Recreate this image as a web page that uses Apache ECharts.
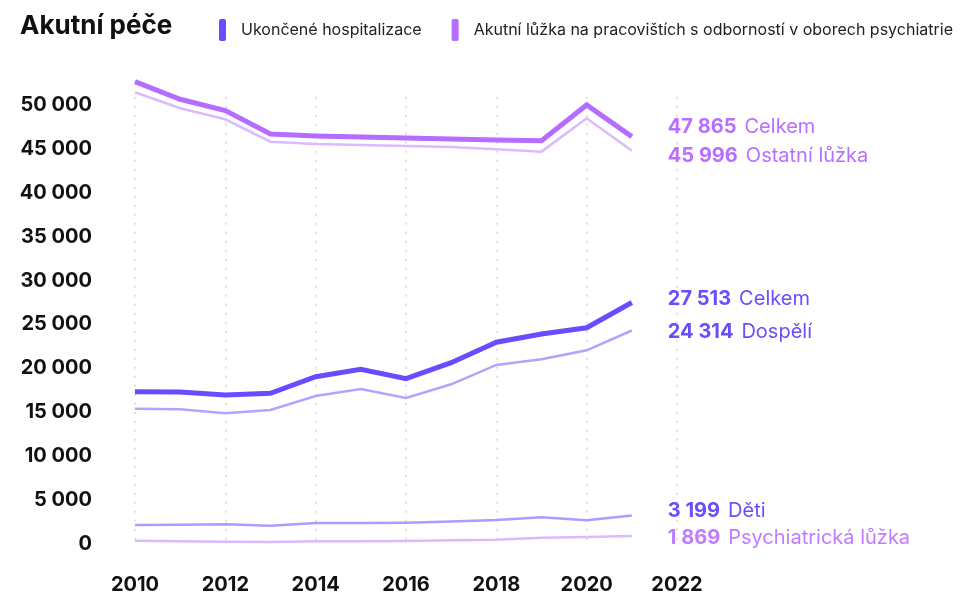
<!DOCTYPE html>
<html>
<head>
<meta charset="utf-8">
<script src="https://cdn.jsdelivr.net/npm/echarts@6/dist/echarts.min.js"></script>
<style>
html,body{margin:0;padding:0;background:#fff;}
#chart{width:968px;height:598px;}
</style>
</head>
<body>
<div id="chart"></div>
<script>
var years = [2010, 2011, 2012, 2013, 2014, 2015, 2016, 2017, 2018, 2019, 2020, 2021];
var hospTotal = [17330, 17290, 16950, 17150, 19040, 19890, 18810, 20640, 22970, 23920, 24630, 27513];
var hospAdult = [15390, 15320, 14860, 15240, 16840, 17640, 16610, 18170, 20380, 21030, 22050, 24314];
var hospChild = [2110, 2150, 2190, 2030, 2340, 2350, 2370, 2500, 2680, 2990, 2650, 3199];
var bedsTotal = [52720, 50710, 49410, 46750, 46520, 46400, 46290, 46180, 46060, 45980, 50060, 46440];
var bedsOther = [51510, 49680, 48420, 45870, 45610, 45490, 45380, 45260, 45000, 44730, 48540, 44840];
var bedsPsych = [320, 260, 205, 170, 250, 270, 285, 360, 430, 660, 740, 860];

var endValues = ['47 865', '45 996', '27 513', '24 314', '3 199', '1 869'];
var endNames = ['Celkem', 'Ostatní lůžka', 'Celkem', 'Dospělí', 'Děti', 'Psychiatrická lůžka'];
var legendNames = ['Ukončené hospitalizace', 'Akutní lůžka na pracovištích s odborností v oborech psychiatrie'];
var titleText = 'Akutní péče';

var FONT = 'Inter, "DejaVu Sans", sans-serif';

function pairs(vals) {
  return vals.map(function (v, i) { return [years[i], v]; });
}
function fmt(v) {
  return String(v).replace(/\B(?=(\d{3})+(?!\d))/g, ' ');
}
function endLabel(idx, color, dy) {
  return {
    show: true,
    distance: 36,
    offset: [0, dy],
    formatter: '{b|' + endValues[idx] + '}{s| }{n|' + endNames[idx] + '}',
    rich: {
      b: { fontFamily: FONT, fontSize: 20, fontWeight: 'bold', color: color },
      s: { fontFamily: FONT, fontSize: 20, width: 8, color: color },
      n: { fontFamily: FONT, fontSize: 20, fontWeight: 'normal', color: color }
    }
  };
}
function line(name, vals, color, width, z, lbl) {
  return {
    name: name,
    type: 'line',
    data: pairs(vals),
    symbol: 'none',
    clip: false,
    z: z,
    lineStyle: { color: color, width: width, cap: 'butt', join: 'miter' },
    itemStyle: { color: color },
    endLabel: lbl,
    labelLayout: { hideOverlap: false },
    emphasis: { disabled: true }
  };
}

var chart = echarts.init(document.getElementById('chart'), null, { renderer: 'canvas' });
chart.setOption({
  animation: false,
  backgroundColor: '#fff',
  title: {
    text: titleText,
    left: 15,
    top: 8,
    textStyle: { fontFamily: FONT, fontSize: 26, fontWeight: 'bold', color: '#111' }
  },
  legend: {
    data: legendNames,
    left: 214,
    top: 14,
    itemWidth: 7,
    itemHeight: 22,
    itemGap: 30,
    icon: 'roundRect',
    selectedMode: false,
    textStyle: { fontFamily: FONT, fontSize: 16, color: '#222', padding: [0, 0, 0, 10] }
  },
  grid: { left: 135, right: 291, top: 96.7, bottom: 54.5 },
  xAxis: {
    type: 'value',
    min: 2010,
    max: 2022,
    interval: 2,
    axisLine: { show: false },
    axisTick: { show: false },
    axisLabel: {
      margin: 31,
      fontFamily: FONT, fontSize: 20, fontWeight: 'bold', color: '#111',
      formatter: function (v) { return String(v); }
    },
    splitLine: { show: true, lineStyle: { color: '#e0e0e0', width: 2, type: [2, 7] } }
  },
  yAxis: {
    type: 'value',
    min: 0,
    max: 51000,
    interval: 5000,
    axisLine: { show: false },
    axisTick: { show: false },
    splitLine: { show: false },
    axisLabel: {
      margin: 43,
      showMaxLabel: false,
      fontFamily: FONT, fontSize: 20, fontWeight: 'bold', color: '#111',
      formatter: function (v) { return fmt(v); }
    }
  },
  series: [
    line('Akutní lůžka ostatní', bedsOther, '#dcbaff', 2.5, 2, endLabel(1, '#b86fff', 5)),
    line(legendNames[1], bedsTotal, '#b56cff', 5, 3, endLabel(0, '#b86fff', -10)),
    line('Dospělí', hospAdult, '#b2a3ff', 2.5, 2, endLabel(3, '#6b4dff', 1)),
    line(legendNames[0], hospTotal, '#6a4bff', 5, 3, endLabel(2, '#6b4dff', -3)),
    line('Děti', hospChild, '#ab9cff', 2.5, 2, endLabel(4, '#6b4dff', -4)),
    line('Psychiatrická lůžka', bedsPsych, '#dcb8ff', 2.5, 2, endLabel(5, '#c07cff', 2))
  ]
});
</script>
</body>
</html>
